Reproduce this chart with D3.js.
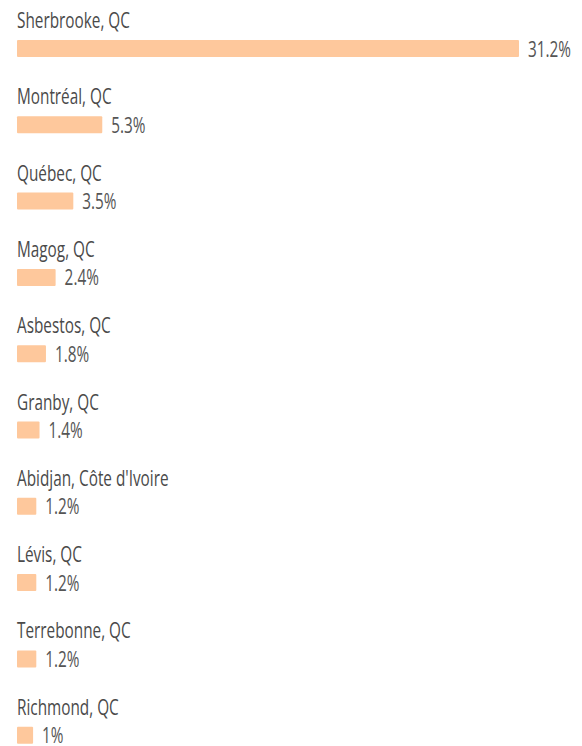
<!DOCTYPE html>
<html>
<head>
<meta charset="utf-8">
<script src="https://cdn.jsdelivr.net/npm/d3@7"></script>
<style>
  body { margin: 0; background: #fff; }
  text { font-family: "Open Sans", "Noto Sans", sans-serif; }
</style>
</head>
<body>
<div id="chart"></div>
<script>
// Data
const cities = ["Sherbrooke, QC", "Montréal, QC", "Québec, QC", "Magog, QC", "Asbestos, QC",
                "Granby, QC", "Abidjan, Côte d'Ivoire", "Lévis, QC", "Terrebonne, QC", "Richmond, QC"];
const shares = [31.2, 5.3, 3.5, 2.4, 1.8, 1.4, 1.2, 1.2, 1.2, 1];
const shareLabels = ["31.2%", "5.3%", "3.5%", "2.4%", "1.8%", "1.4%", "1.2%", "1.2%", "1.2%", "1%"];

const width = 582, height = 746;
const left = 17;
const squeeze = 0.73; // text looks horizontally condensed

const svg = d3.select("#chart").append("svg")
    .attr("width", width)
    .attr("height", height);

// Scales
const xScale = d3.scaleLinear()
    .domain([0, 31.2])
    .range([0, 502]);

const yScale = d3.scaleLinear()
    .domain([0, cities.length])
    .range([0, 76.3 * cities.length]);

const rows = svg.selectAll("g.row")
    .data(cities)
    .join("g")
    .attr("class", "row")
    .attr("transform", (d, i) => `translate(0,${yScale(i)})`);

// City label
rows.append("text")
    .attr("transform", `translate(${left},28) scale(${squeeze},1)`)
    .attr("font-size", 21)
    .attr("fill", "#4a4a4a")
    .text(d => d);

// Bar
rows.append("rect")
    .attr("x", left)
    .attr("y", 40)
    .attr("width", (d, i) => xScale(shares[i]))
    .attr("height", 17)
    .attr("rx", 1)
    .attr("fill", "#fec89c");

// Value label
rows.append("text")
    .attr("transform", (d, i) => `translate(${left + xScale(shares[i]) + 9},56.5) scale(${squeeze},1)`)
    .attr("font-size", 21)
    .attr("fill", "#555")
    .text((d, i) => shareLabels[i]);
</script>
</body>
</html>
